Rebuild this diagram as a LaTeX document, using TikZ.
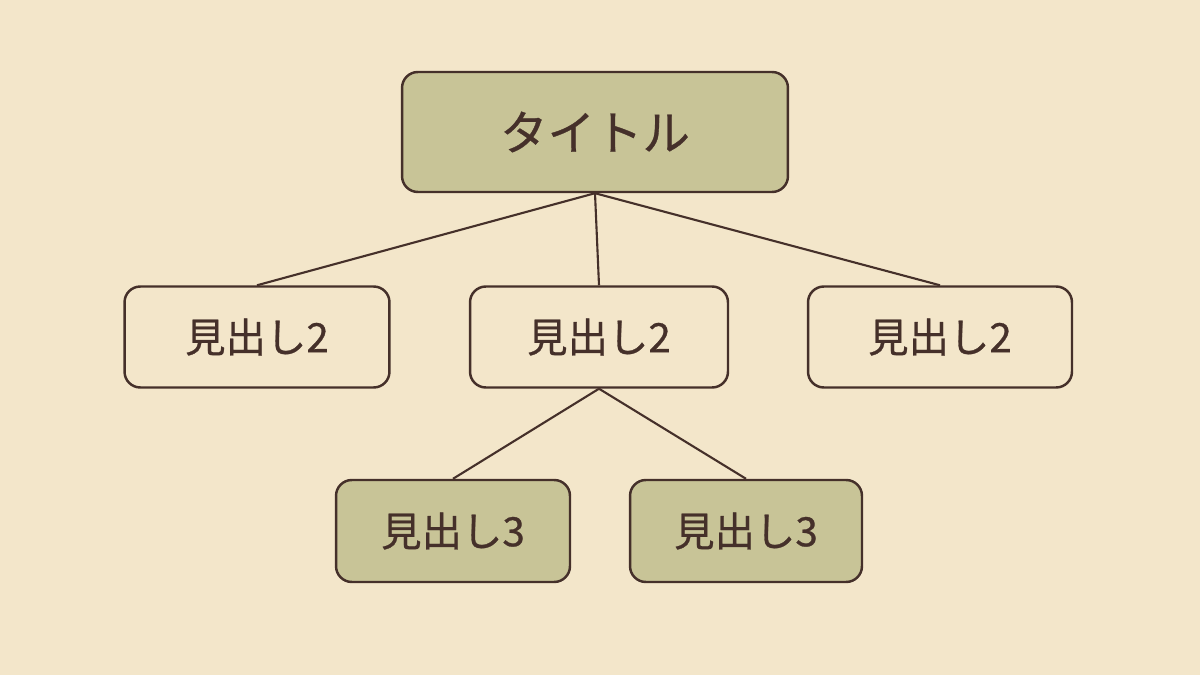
\documentclass[tikz,border=0pt]{standalone}
\usepackage{fontspec}
\setmainfont{Noto Sans CJK JP}
\newfontfamily\medfont[FakeBold=0.7]{Noto Sans CJK JP}
\usetikzlibrary{positioning, calc}
\definecolor{paper}{HTML}{F3E6CA}
\definecolor{ink}{HTML}{45302A}
\definecolor{olive}{HTML}{C8C497}
\tikzset{box/.style={draw=ink, line width=1.4pt, rounded corners=9pt, inner sep=0pt, text=ink}}
\tikzset{filled/.append style={box, fill=olive}}
\tikzset{plain/.append style={box, fill=paper}}
\tikzset{link/.style={draw=ink, line width=1.2pt}}

\begin{document}
\begin{tikzpicture}[x=0.02cm, y=-0.02cm]
      \fill[paper] (0,0) rectangle (1200,675);
      \useasboundingbox (0,0) rectangle (1200,675);

      \node[filled, minimum width=7.72cm, minimum height=2.4cm, font=\medfont\fontsize{27}{30}\selectfont] (title) at (595,132) {タイトル};

      \node[plain, minimum width=5.3cm, minimum height=2.02cm, font=\medfont\fontsize{23}{26}\selectfont] (h2a) at (257,337) {見出し2};
      \node[plain, minimum width=5.16cm, minimum height=2.02cm, font=\medfont\fontsize{23}{26}\selectfont] (h2b) at (599,337) {見出し2};
      \node[plain, minimum width=5.28cm, minimum height=2.02cm, font=\medfont\fontsize{23}{26}\selectfont] (h2c) at (940,337) {見出し2};

      \node[filled, minimum width=4.68cm, minimum height=2.04cm, font=\medfont\fontsize{23}{26}\selectfont] (h3a) at (453,531) {見出し3};
      \node[filled, minimum width=4.64cm, minimum height=2.04cm, font=\medfont\fontsize{23}{26}\selectfont] (h3b) at (746,531) {見出し3};

      \draw[link] (title.south) -- (h2a.north);
      \draw[link] (title.south) -- (h2b.north);
      \draw[link] (title.south) -- (h2c.north);
      \draw[link] (h2b.south) -- (h3a.north);
      \draw[link] (h2b.south) -- (h3b.north);
\end{tikzpicture}
\end{document}
